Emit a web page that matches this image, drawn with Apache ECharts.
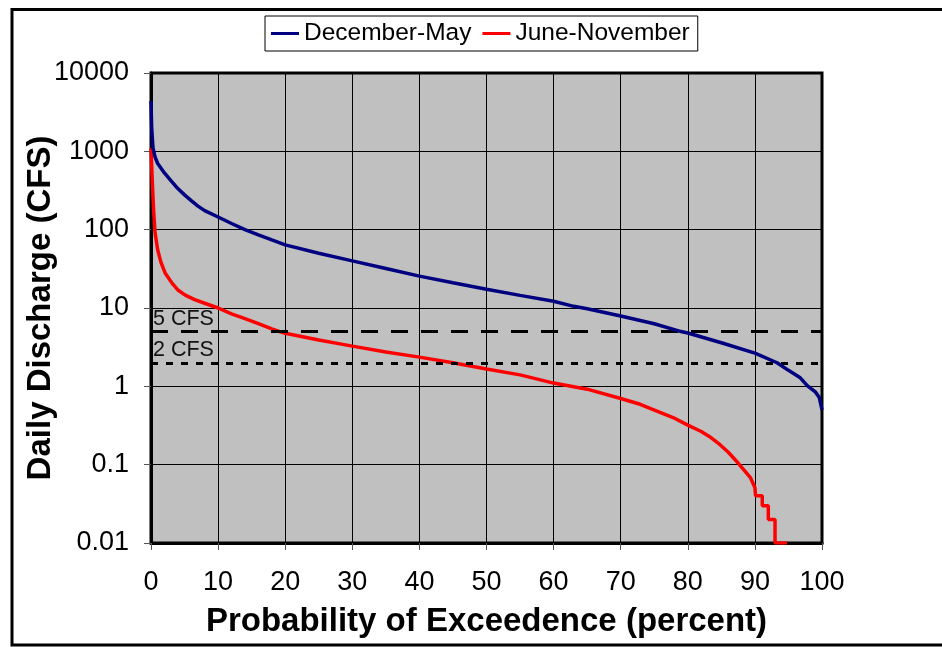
<!DOCTYPE html>
<html>
<head>
<meta charset="utf-8">
<script src="https://cdn.jsdelivr.net/npm/echarts@6/dist/echarts.min.js"></script>
<style>html,body{margin:0;padding:0;background:#fff;}#c{width:942px;height:647px;}</style>
</head>
<body>
<div id="c"></div>
<script>
// Data
const seriesNames = ['December-May', 'June-November'];
const decMay = [
  [0,4400],[0.1,2000],[0.3,1100],[0.6,850],[1,700],[2,530],[3,420],[4,335],[5,278],[6,235],
  [7,200],[8,175],[10,145],[12,120],[14,100],[16,86],[18,74],[20,64],[25,50],[30,40],
  [35,32],[40,25.5],[45,21],[50,17.4],[55,14.5],[60,12.2],[63,10.5],[65,9.8],[70,7.9],
  [75,6.3],[79,5.0],[80,4.8],[85,3.6],[90,2.65],[93.3,2.0],[95,1.6],[96.7,1.3],
  [97.8,1.02],[99,0.85],[99.6,0.72],[100,0.5]
];
const junNov = [
  [0,1100],[0.2,400],[0.4,170],[0.6,92],[1,55],[1.5,38],[2.1,28],[3.1,21],[4,17],
  [5.1,14.6],[6.5,12.8],[8,11.5],[10,10],[12,8.4],[14,7.3],[16,6.3],[18,5.4],
  [20,4.75],[25,3.9],[30,3.26],[35,2.75],[40,2.36],[45,2.0],[50,1.66],[55,1.4],[60,1.1],
  [65,0.92],[70,0.7],[72.9,0.59],[77.8,0.40],[80,0.32],[82,0.265],[83.5,0.22],[84.8,0.18],
  [86,0.145],[87.5,0.105],[89.3,0.069],[90,0.051],[90.1,0.04],[91.1,0.04],[91.1,0.03],[92,0.03],
  [92,0.02],[93,0.02],[93,0.01],[94.8,0.01]
];
const refLevels = [5, 2];
const refLabels = ['5 CFS', '2 CFS'];
const xTicks = [0,10,20,30,40,50,60,70,80,90,100];
const yTickLabels = ['0.01','0.1','1','10','100','1000','10000'];

const chart = echarts.init(document.getElementById('c'), null, {renderer:'canvas'});
const font = 'Liberation Sans, Arial, sans-serif';
chart.setOption({
  animation: false,
  graphic: [{
    type: 'rect', z: 100, silent: true,
    shape: {x: 12, y: 9.5, width: 940, height: 635.5},
    style: {fill: 'none', stroke: '#000', lineWidth: 3}
  }],
  legend: {
    data: seriesNames,
    left: 265, top: 16,
    padding: [5, 8, 5, 6],
    itemGap: 11,
    itemWidth: 28, itemHeight: 3,
    icon: 'rect',
    borderColor: '#000', borderWidth: 1,
    backgroundColor: '#fff',
    textStyle: {fontFamily: font, fontSize: 24.5, color: '#000'}
  },
  grid: {
    left: 151, top: 73, right: 120, bottom: 104,
    show: true, backgroundColor: '#c0c0c0',
    borderColor: '#000', borderWidth: 3,
    containLabel: false
  },
  xAxis: {
    type: 'value', min: 0, max: 100, interval: 10,
    name: 'Probability of Exceedence (percent)',
    nameLocation: 'middle', nameGap: 62, nameMoveOverlap: false,
    nameTextStyle: {fontFamily: font, fontSize: 33, fontWeight: 'bold', color: '#000'},
    axisLine: {show: true, lineStyle: {color: '#000', width: 3}},
    axisTick: {show: true, length: 7, lineStyle: {color: '#555', width: 1}},
    axisLabel: {margin: 26, fontFamily: font, fontSize: 27, color: '#000',
      formatter: v => xTicks.includes(v) ? String(v) : ''},
    splitLine: {show: true, lineStyle: {color: '#000', width: 1}}
  },
  yAxis: {
    type: 'log', logBase: 10, min: 0.01, max: 10000, interval: 1,
    name: 'Daily Discharge (CFS)',
    nameLocation: 'middle', nameGap: 94, nameMoveOverlap: false,
    nameTextStyle: {fontFamily: font, fontSize: 33, fontWeight: 'bold', color: '#000'},
    axisLine: {show: true, lineStyle: {color: '#000', width: 3}},
    axisTick: {show: true, length: 7, lineStyle: {color: '#555', width: 1}},
    axisLabel: {margin: 22, fontFamily: font, fontSize: 27, color: '#000',
      formatter: v => yTickLabels[Math.round(Math.log10(v)) + 2]},
    splitLine: {show: true, lineStyle: {color: '#000', width: 1}},
    minorTick: {show: false}
  },
  series: [
    {
      name: seriesNames[0], type: 'line', data: decMay,
      showSymbol: false, symbol: 'none',
      lineStyle: {color: '#000080', width: 3.5}, itemStyle: {color: '#000080'},
      z: 5,
      markLine: {
        silent: true, symbol: 'none', animation: false,
        data: refLevels.map((lv, i) => ({
          yAxis: lv,
          lineStyle: {color: '#000', width: 3, type: i === 0 ? [17, 13] : [7, 8]},
          label: {show: true, position: 'insideStartTop', formatter: refLabels[i],
            distance: [2, 2], fontFamily: font, fontSize: 21.5, color: '#111'}
        }))
      }
    },
    {
      name: seriesNames[1], type: 'line', data: junNov,
      showSymbol: false, symbol: 'none',
      lineStyle: {color: '#ff0000', width: 3.5}, itemStyle: {color: '#ff0000'},
      z: 4
    }
  ]
});
</script>
</body>
</html>
